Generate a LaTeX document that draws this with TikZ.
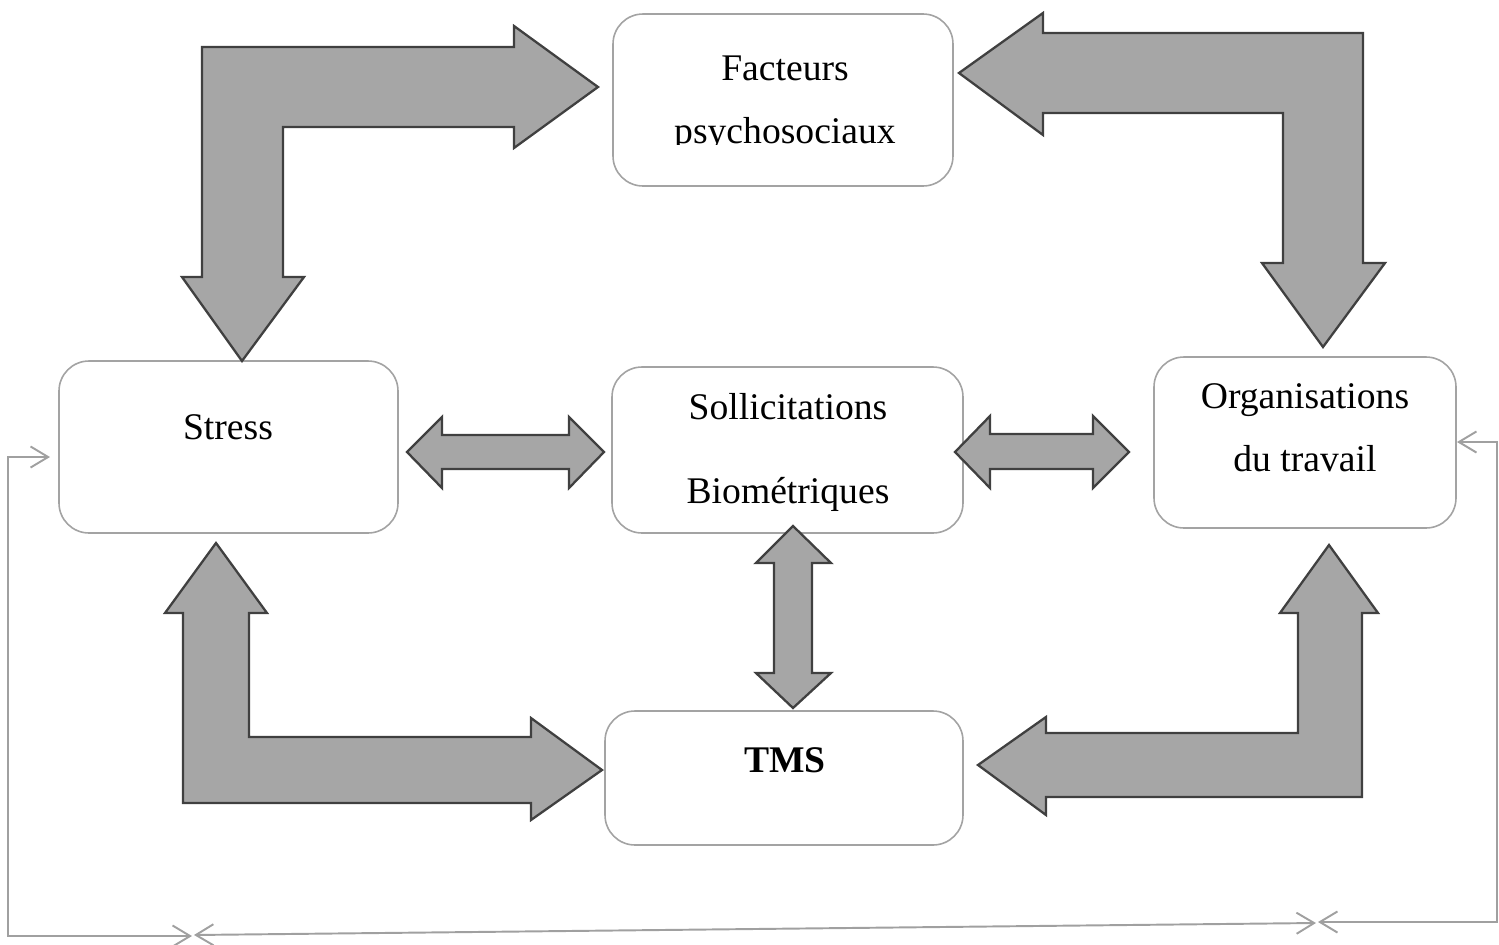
\documentclass[tikz,border=0pt]{standalone}
\usepackage{fontspec}
\setmainfont{Liberation Serif}
\usetikzlibrary{arrows.meta}
\definecolor{bigfill}{HTML}{A6A6A6}
\definecolor{bigedge}{HTML}{404040}
\definecolor{boxedge}{HTML}{A3A3A3}
\definecolor{thin}{HTML}{A0A0A0}
\tikzset{
  box/.style={draw=boxedge, line width=0.45pt, fill=white, rounded corners=0.3cm},
  bigarrow/.style={fill=bigfill, draw=bigedge, line width=0.65pt, line join=miter},
  label/.style={anchor=base, inner sep=0pt, font=\fontsize{10.7}{13}\selectfont},
  link/.style={draw=thin, line width=0.55pt, {Straight Barb[length=5pt,width=6pt]}-{Straight Barb[length=5pt,width=6pt]}}
}
\begin{document}
\begin{tikzpicture}[x=0.01cm,y=-0.01cm]
\useasboundingbox (0,0) rectangle (1499,945);
% boxes
\draw[box] (613,14) rectangle (953,186);
\node[inner sep=0pt] (fac) at (783,100) {};
\draw[box] (59,361) rectangle (398,533);
\node[inner sep=0pt] (str) at (228,447) {};
\draw[box] (612,367) rectangle (963,533);
\node[inner sep=0pt] (sol) at (788,450) {};
\draw[box] (1154,357) rectangle (1456,528);
\node[inner sep=0pt] (org) at (1305,442) {};
\draw[box] (605,711) rectangle (963,845);
\node[inner sep=0pt] (tms) at (784,778) {};
% texts
\node[label] (t1) at (785,80) {Facteurs};
\begin{scope}
\clip (613,100) rectangle (953,144);
\node[label] (t2) at (785,143) {psychosociaux};
\end{scope}
\node[label] (t3) at (228,439) {Stress};
\node[label] (t4) at (788,419) {Sollicitations};
\node[label] (t5) at (788,503) {Biométriques};
\node[label] (t6) at (1305,408) {Organisations};
\node[label] (t7) at (1305,471) {du travail};
\node[label,font=\fontsize{10.7}{13}\selectfont\bfseries] (t8) at (785,772) {TMS};
% big arrows
\draw[bigarrow] (202,47) -- (514,47) -- (514,26) -- (598,87) -- (514,148) -- (514,127) -- (283,127)
  -- (283,277) -- (304,277) -- (242,361) -- (182,277) -- (202,277) -- cycle;
\draw[bigarrow] (959,73) -- (1043,13) -- (1043,33) -- (1363,33) -- (1363,263) -- (1385,263)
  -- (1323,347) -- (1262,263) -- (1283,263) -- (1283,113) -- (1043,113) -- (1043,135) -- cycle;
\draw[bigarrow] (216,543) -- (267,613) -- (249,613) -- (249,737) -- (531,737) -- (531,718)
  -- (602,770) -- (531,820) -- (531,803) -- (183,803) -- (183,613) -- (165,613) -- cycle;
\draw[bigarrow] (1329,545) -- (1378,613) -- (1362,613) -- (1362,797) -- (1046,797) -- (1046,815)
  -- (978,765) -- (1046,717) -- (1046,733) -- (1298,733) -- (1298,613) -- (1280,613) -- cycle;
% double arrows
\draw[bigarrow] (407,452) -- (442,417) -- (442,435) -- (569,435) -- (569,417) -- (604,452)
  -- (569,488) -- (569,469) -- (442,469) -- (442,488) -- cycle;
\draw[bigarrow] (955,452) -- (990,416) -- (990,434) -- (1093,434) -- (1093,416) -- (1129,452)
  -- (1093,488) -- (1093,469) -- (990,469) -- (990,488) -- cycle;
\draw[bigarrow] (793,526) -- (831,563) -- (812,563) -- (812,673) -- (831,673) -- (793,708)
  -- (756,673) -- (774,673) -- (774,563) -- (756,563) -- cycle;
% thin connectors
\coordinate (a1) at (50,457);
\coordinate (a2) at (192,936);
\coordinate (b1) at (194,935);
\coordinate (b2) at (1316,923);
\coordinate (c1) at (1457,442);
\coordinate (c2) at (1318,922);
\draw[link] (a1) -- (8,457) -- (8,936) -- (a2);
\draw[link] (b1) -- (b2);
\draw[link] (c1) -- (1497,442) -- (1497,922) -- (c2);
\end{tikzpicture}
\end{document}
